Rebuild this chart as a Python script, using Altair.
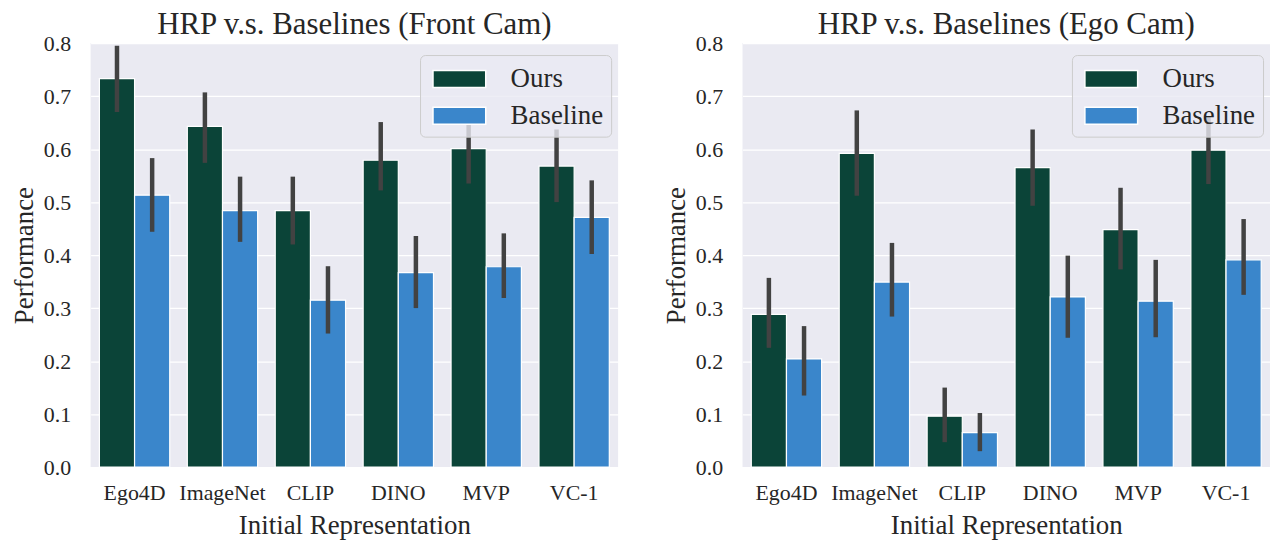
import altair as alt
import pandas as pd

categories = ["Ego4D", "ImageNet", "CLIP", "DINO", "MVP", "VC-1"]
series = ["Ours", "Baseline"]

# Front Cam
ours_front = [0.733, 0.643, 0.484, 0.579, 0.601, 0.568]
ours_front_lo = [0.670, 0.574, 0.420, 0.522, 0.535, 0.500]
ours_front_hi = [0.795, 0.707, 0.548, 0.651, 0.660, 0.637]
base_front = [0.513, 0.484, 0.315, 0.367, 0.378, 0.471]
base_front_lo = [0.444, 0.425, 0.252, 0.300, 0.319, 0.402]
base_front_hi = [0.583, 0.548, 0.379, 0.436, 0.441, 0.541]

# Ego Cam
ours_ego = [0.288, 0.592, 0.096, 0.565, 0.448, 0.598]
ours_ego_lo = [0.225, 0.512, 0.047, 0.493, 0.373, 0.534]
ours_ego_hi = [0.357, 0.673, 0.150, 0.637, 0.527, 0.662]
base_ego = [0.204, 0.349, 0.065, 0.321, 0.313, 0.391]
base_ego_lo = [0.135, 0.284, 0.030, 0.244, 0.245, 0.325]
base_ego_hi = [0.266, 0.423, 0.102, 0.399, 0.391, 0.468]

titles = ["HRP v.s. Baselines (Front Cam)", "HRP v.s. Baselines (Ego Cam)"]
colors = ["#0b4438", "#3a86cb"]

FONT = "Liberation Serif"
TXT = "#262626"


def make_df(o, olo, ohi, b, blo, bhi):
    rows = []
    for i, c in enumerate(categories):
        rows.append({"cat": c, "series": "Ours", "v": o[i], "lo": olo[i], "hi": ohi[i]})
        rows.append({"cat": c, "series": "Baseline", "v": b[i], "lo": blo[i], "hi": bhi[i]})
    return pd.DataFrame(rows)


def panel(df, title, W=530, H=426):
    x = alt.X("cat:N", sort=categories, title="Initial Representation",
              scale=alt.Scale(paddingInner=0, paddingOuter=0),
              axis=alt.Axis(labelAngle=0, grid=False, domain=False, ticks=False,
                            labelPadding=16, titlePadding=9,
                            labelFontSize=22, titleFontSize=27,
                            labelFont=FONT, titleFont=FONT,
                            labelColor=TXT, titleColor=TXT, titleFontWeight="normal"))
    xo = alt.XOffset("series:N", sort=series,
                     scale=alt.Scale(paddingOuter=0.25, paddingInner=0))
    y = alt.Y("v:Q", title="Performance",
              scale=alt.Scale(domain=[0, 0.8], nice=False, zero=True),
              axis=alt.Axis(values=[0, 0.1, 0.2, 0.3, 0.4, 0.5, 0.6, 0.7, 0.8],
                            format=".1f", grid=True, gridColor="white", gridWidth=1.4,
                            domain=False, ticks=False, labelPadding=20, titlePadding=5,
                            labelFontSize=22, titleFontSize=27,
                            labelFont=FONT, titleFont=FONT,
                            labelColor=TXT, titleColor=TXT, titleFontWeight="normal"))
    color = alt.Color("series:N", sort=series, title=None,
                      scale=alt.Scale(domain=series, range=colors),
                      legend=alt.Legend(orient="none", legendX=331, legendY=12,
                                        labelFont=FONT, labelFontSize=27, labelColor=TXT,
                                        symbolType="M-0.733,-0.567H2.8V0.567H-0.733Z",
                                        symbolSize=900, symbolStrokeColor="white",
                                        symbolStrokeWidth=1.5, symbolOpacity=1,
                                        labelOffset=51, rowPadding=8, padding=8,
                                        fillColor="rgba(234,234,242,0.8)",
                                        strokeColor="#cccccc", cornerRadius=5))
    bars = alt.Chart(df).mark_bar(stroke="white", strokeWidth=1.2, opacity=1).encode(
        x=x, xOffset=xo, y=y, color=color)
    errs = alt.Chart(df).mark_rule(color="#424242", strokeWidth=4.5).encode(
        x=alt.X("cat:N", sort=categories),
        xOffset=alt.XOffset("series:N", sort=series),
        y=alt.Y("lo:Q"), y2="hi:Q")
    return alt.layer(bars, errs).properties(
        width=W, height=H,
        title=alt.TitleParams(title, font=FONT, fontSize=31, fontWeight="normal",
                              color=TXT, anchor="middle", baseline="bottom",
                              frame="group", offset=-40))


left = panel(make_df(ours_front, ours_front_lo, ours_front_hi,
                     base_front, base_front_lo, base_front_hi), titles[0])
right = panel(make_df(ours_ego, ours_ego_lo, ours_ego_hi,
                      base_ego, base_ego_lo, base_ego_hi), titles[1])

chart = alt.hconcat(left, right, spacing=44).resolve_scale(color="independent").properties(
    padding={"left": 2, "top": 0, "right": 0, "bottom": 0}
).configure(background="white").configure_view(fill="#eaeaf2", strokeWidth=0)

chart.save("out.html", embed_options={"renderer": "svg", "actions": False})
